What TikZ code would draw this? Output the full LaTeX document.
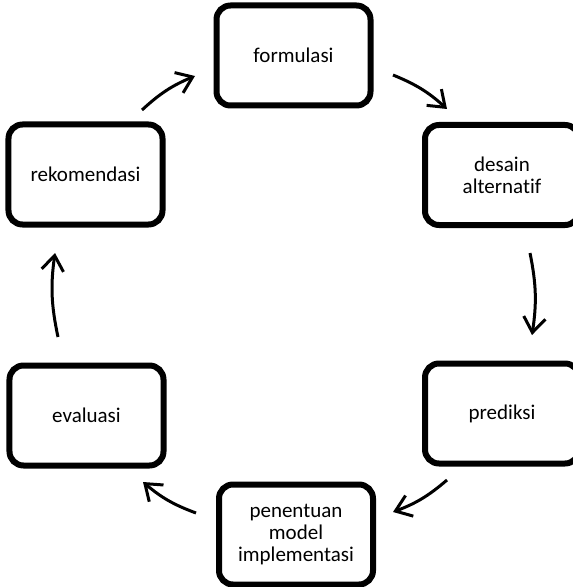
\documentclass[tikz,border=0pt]{standalone}
\usepackage{fontspec}
\setmainfont{Carlito}[Ligatures={NoCommon,NoContextual}]
\usetikzlibrary{arrows.meta}

\begin{document}
\begin{tikzpicture}[x=1bp,y=1bp,
  stage/.style={draw, line width=6bp, rounded corners=14bp,
    minimum width=154bp, minimum height=100bp, inner sep=0pt,
    align=center, font=\fontsize{21bp}{22bp}\selectfont},
  flow/.style={line width=3bp, -{Straight Barb[length=15bp,width=22bp]},
    bend left=10}]
  \useasboundingbox (0,0) rectangle (573,-587);
  \clip (0,0) rectangle (573,-587);

  % the six stages of the cycle
  \node[stage] (formulasi)   at (293.5,-55.5) {formulasi};
  \node[stage] (desain)      at (502,-175)    {desain\\alternatif};
  \node[stage] (prediksi)    at (502,-413.5)  {prediksi};
  \node[stage] (penentuan)   at (296,-534.5)  {penentuan\\model\\implementasi};
  \node[stage] (evaluasi)    at (86.5,-415.5) {evaluasi};
  \node[stage] (rekomendasi) at (85.5,-174.5) {rekomendasi};

  % free ends of the arrows between the stages
  \coordinate (formulasi-out)   at (393,-75);
  \coordinate (desain-in)       at (447,-109);
  \coordinate (desain-out)      at (530,-253);
  \coordinate (prediksi-in)     at (532,-335);
  \coordinate (prediksi-out)    at (447,-480);
  \coordinate (penentuan-in)    at (393,-512);
  \coordinate (penentuan-out)   at (196,-513);
  \coordinate (evaluasi-in)     at (143,-482);
  \coordinate (evaluasi-out)    at (58,-337);
  \coordinate (rekomendasi-in)  at (55,-253);
  \coordinate (rekomendasi-out) at (142,-110);
  \coordinate (formulasi-in)    at (195,-76);

  \draw[flow] (formulasi-out)   to (desain-in);
  \draw[flow] (desain-out)      to (prediksi-in);
  \draw[flow] (prediksi-out)    to (penentuan-in);
  \draw[flow] (penentuan-out)   to (evaluasi-in);
  \draw[flow] (evaluasi-out)    to (rekomendasi-in);
  \draw[flow] (rekomendasi-out) to (formulasi-in);
\end{tikzpicture}
\end{document}
